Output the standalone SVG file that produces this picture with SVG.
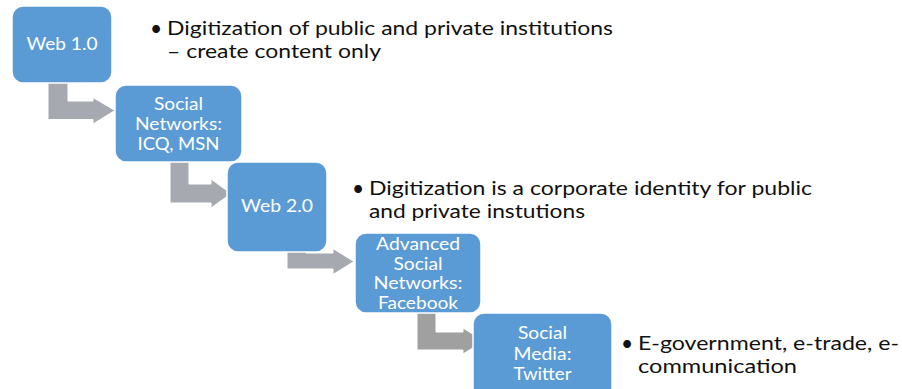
<svg xmlns="http://www.w3.org/2000/svg" width="902" height="389" viewBox="0 0 902 389">
<style>
.box{fill:#5B9BD5;stroke:#ffffff;stroke-width:1.5}
.bt{font-family:Lato,"Open Sans","Liberation Sans",sans-serif;font-size:16.5px;fill:#ffffff;text-anchor:middle}
.arr{fill:#A6A9AF;stroke:#ffffff;stroke-width:1}
.arr2{fill:#A0A0A0;stroke:#ffffff;stroke-width:1}
.tx{font-family:Lato,"Open Sans","Liberation Sans",sans-serif;font-size:18.5px;fill:#111111}
.bu{font-family:Lato,"Open Sans","Liberation Sans",sans-serif;font-size:21px;fill:#111111;text-anchor:middle}
</style>
<rect width="902" height="389" fill="#ffffff"/>
<g id="connectors">
<path class="arr" d="M48,78 L68,78 L68,101 L93,101 L93,97.5 L115,110.5 L93,124 L93,119.5 L48,119.5 Z"/>
<path class="arr" d="M170,158 L189,158 L189,184 L211,184 L211,179 L231,193.5 L211,208 L211,203 L170,203 Z"/>
<path class="arr" d="M287,250 L306,250 L306,253 L333,253 L333,248.5 L354,261.5 L333,274.5 L333,269 L287,269 Z"/>
<path class="arr2" d="M417,310 L436,310 L436,332 L463,332 L463,328 L484,341 L463,354 L463,350 L417,350 Z"/>
</g>
<g id="web10">
<rect class="box" x="12" y="6" width="100" height="77" rx="11"/>
<text class="bt" x="62" y="50" textLength="71" lengthAdjust="spacingAndGlyphs">Web 1.0</text>
</g>
<g id="social-networks">
<rect class="box" x="115" y="85" width="127" height="77" rx="11"/>
<text class="bt" x="178.5" y="110" textLength="49" lengthAdjust="spacingAndGlyphs">Social</text>
<text class="bt" x="178.5" y="130" textLength="87" lengthAdjust="spacingAndGlyphs">Networks:</text>
<text class="bt" x="178.5" y="150" textLength="82" lengthAdjust="spacingAndGlyphs">ICQ, MSN</text>
</g>
<g id="web20">
<rect class="box" x="227" y="162" width="100" height="90" rx="11"/>
<text class="bt" x="277" y="212" textLength="72" lengthAdjust="spacingAndGlyphs">Web 2.0</text>
</g>
<g id="advanced">
<rect class="box" x="355" y="233" width="126" height="80" rx="11"/>
<text class="bt" x="418" y="250" textLength="84" lengthAdjust="spacingAndGlyphs">Advanced</text>
<text class="bt" x="418" y="269.5" textLength="49" lengthAdjust="spacingAndGlyphs">Social</text>
<text class="bt" x="418" y="289" textLength="89" lengthAdjust="spacingAndGlyphs">Networks:</text>
<text class="bt" x="418" y="308.5" textLength="80" lengthAdjust="spacingAndGlyphs">Facebook</text>
</g>
<g id="social-media">
<rect class="box" x="473" y="313" width="139" height="90" rx="11"/>
<text class="bt" x="542.5" y="339" textLength="49" lengthAdjust="spacingAndGlyphs">Social</text>
<text class="bt" x="542.5" y="359.5" textLength="58" lengthAdjust="spacingAndGlyphs">Media:</text>
<text class="bt" x="542.5" y="380" textLength="58" lengthAdjust="spacingAndGlyphs">Twitter</text>
</g>
<g id="note1">
<text class="bu" x="156" y="36">•</text>
<text class="tx" x="167" y="35" textLength="446" lengthAdjust="spacingAndGlyphs">Digitization of public and private institutions</text>
<text class="tx" x="167" y="57.5" textLength="214" lengthAdjust="spacingAndGlyphs">– create content only</text>
</g>
<g id="note2">
<text class="bu" x="358" y="196">•</text>
<text class="tx" x="369" y="195" textLength="443" lengthAdjust="spacingAndGlyphs">Digitization is a corporate identity for public</text>
<text class="tx" x="369" y="218" textLength="216" lengthAdjust="spacingAndGlyphs">and private instutions</text>
</g>
<g id="note3">
<text class="bu" x="627" y="351">•</text>
<text class="tx" x="638" y="350" textLength="261" lengthAdjust="spacingAndGlyphs">E-government, e-trade, e-</text>
<text class="tx" x="638" y="372.5" textLength="159" lengthAdjust="spacingAndGlyphs">communication</text>
</g>
</svg>
